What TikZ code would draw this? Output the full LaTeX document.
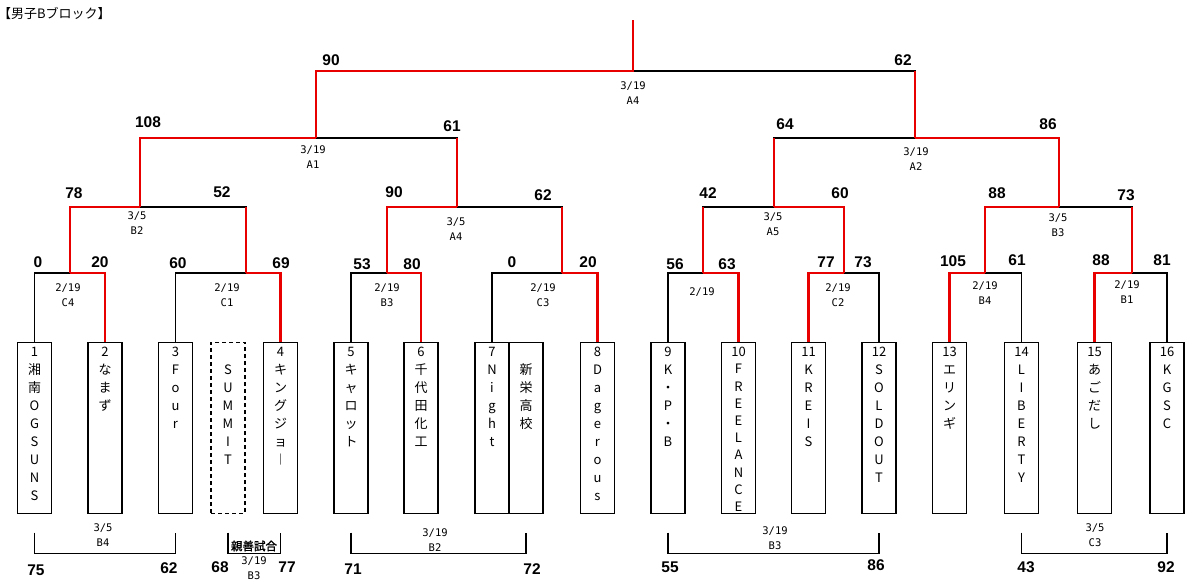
\documentclass[tikz,border=0pt]{standalone}
\usepackage{fontspec}
\setmainfont{Liberation Sans}
\newfontfamily\jp{Noto Sans CJK JP}
\newfontfamily\jpbold{Noto Sans CJK JP}[FakeBold=1.5]
\newfontfamily\mono{DejaVu Sans Mono}
\usepackage{tikz}
\definecolor{winred}{RGB}{232,0,0}

\begin{document}
\begin{tikzpicture}[x=1pt,y=-1pt,
  team/.style={draw,line width=1.2pt,minimum width=34pt,minimum height=171pt,inner sep=0pt,anchor=north},
  names/.style={anchor=north,inner sep=0pt,align=center,font=\jp\fontsize{13}{18}\selectfont},
  lose/.style={line width=1.2pt},
  win/.style={line width=2.2pt,winred},
  score/.style={inner sep=0pt,font=\bfseries\fontsize{15.5}{16}\selectfont},
  date/.style={inner sep=0pt,align=center,font=\mono\fontsize{10.5}{15}\selectfont}]
\fill[white] (0,0) rectangle (1200,586);
\useasboundingbox (0,0) rectangle (1200,586);

\node[anchor=west,inner sep=0pt,font=\jp\fontsize{13}{13}\selectfont] (title) at (-2,13) {【男子Bブロック】};

% team boxes
\node[team] (t1) at (34.5,341.5) {};
\node[team] (t2) at (105,341.5) {};
\node[team] (t3) at (175.5,341.5) {};
\node[team,dash pattern=on 4pt off 3pt] (summit) at (228,341.5) {};
\node[team] (t4) at (280.5,341.5) {};
\node[team] (t5) at (351,341.5) {};
\node[team] (t6) at (421,341.5) {};
\node[team] (t7) at (492,341.5) {};
\node[team] (shinei) at (526,341.5) {};
\node[team] (t8) at (597.5,341.5) {};
\node[team] (t9) at (668,341.5) {};
\node[team] (t10) at (738.5,341.5) {};
\node[team] (t11) at (808.5,341.5) {};
\node[team] (t12) at (879,341.5) {};
\node[team] (t13) at (949.5,341.5) {};
\node[team] (t14) at (1021.5,341.5) {};
\node[team] (t15) at (1094.5,341.5) {};
\node[team] (t16) at (1167,341.5) {};

% names, one character a line
\node[names] (n1) at ([yshift=-5.5pt]t1.north) {1\\湘\\南\\O\\G\\S\\U\\N\\S};
\node[names] (n2) at ([yshift=-5.5pt]t2.north) {2\\な\\ま\\ず};
\node[names] (n3) at ([yshift=-5.5pt]t3.north) {3\\F\\o\\u\\r};
\node[names] (nsummit) at ([yshift=-5.5pt]summit.north) {\phantom{1}\\S\\U\\M\\M\\I\\T};
\node[names] (n4) at ([yshift=-5.5pt]t4.north) {4\\キ\\ン\\グ\\ジ\\ョ\\︱};
\node[names] (n5) at ([yshift=-5.5pt]t5.north) {5\\キ\\ャ\\ロ\\ッ\\ト};
\node[names] (n6) at ([yshift=-5.5pt]t6.north) {6\\千\\代\\田\\化\\工};
\node[names] (n7) at ([yshift=-5.5pt]t7.north) {7\\N\\i\\g\\h\\t};
\node[names] (nshinei) at ([yshift=-5.5pt]shinei.north) {\phantom{1}\\新\\栄\\高\\校};
\node[names] (n8) at ([yshift=-5.5pt]t8.north) {8\\D\\a\\g\\e\\r\\o\\u\\s};
\node[names] (n9) at ([yshift=-5.5pt]t9.north) {9\\K\\・\\P\\・\\B};
\node[names,font=\jp\fontsize{13}{17.2}\selectfont] (n10) at ([yshift=-5.5pt]t10.north) {10\\F\\R\\E\\E\\L\\A\\N\\C\\E};
\node[names] (n11) at ([yshift=-5.5pt]t11.north) {11\\K\\R\\E\\I\\S};
\node[names] (n12) at ([yshift=-5.5pt]t12.north) {12\\S\\O\\L\\D\\O\\U\\T};
\node[names] (n13) at ([yshift=-5.5pt]t13.north) {13\\エ\\リ\\ン\\ギ};
\node[names] (n14) at ([yshift=-5.5pt]t14.north) {14\\L\\I\\B\\E\\R\\T\\Y};
\node[names] (n15) at ([yshift=-5.5pt]t15.north) {15\\あ\\ご\\だ\\し};
\node[names] (n16) at ([yshift=-5.5pt]t16.north) {16\\K\\G\\S\\C};

% junctions
\coordinate (m1) at (70,273);
\coordinate (m2) at (246,273);
\coordinate (m3) at (387,273);
\coordinate (m4) at (562,273);
\coordinate (m5) at (703,273);
\coordinate (m6) at (844,273);
\coordinate (m7) at (985,273);
\coordinate (m8) at (1132,273);
\coordinate (q1) at (140,207);
\coordinate (q2) at (457,207);
\coordinate (q3) at (774,207);
\coordinate (q4) at (1059,207);
\coordinate (s1) at (316,138);
\coordinate (s2) at (915,138);
\coordinate (f) at (633,71);
\coordinate (top) at (633,20);

% losing sides
\draw[lose] (t1.north) |- (m1);
\draw[lose] (t3.north) |- (m2);
\draw[lose] (t5.north) |- (m3);
\draw[lose] (t7.north) |- (m4);
\draw[lose] (t9.north) |- (m5);
\draw[lose] (t12.north) |- (m6);
\draw[lose] (t14.north) |- (m7);
\draw[lose] (t16.north) |- (m8);
\draw[lose] (m2) |- (q1);
\draw[lose] (m4) |- (q2);
\draw[lose] (m5) |- (q3);
\draw[lose] (m8) |- (q4);
\draw[lose] (q2) |- (s1);
\draw[lose] (q3) |- (s2);
\draw[lose] (s2) |- (f);

% winning sides
\draw[win] (t2.north) |- (m1);
\draw[win] (t4.north) |- (m2);
\draw[win] (t6.north) |- (m3);
\draw[win] (t8.north) |- (m4);
\draw[win] (t10.north) |- (m5);
\draw[win] (t11.north) |- (m6);
\draw[win] (t13.north) |- (m7);
\draw[win] (t15.north) |- (m8);
\draw[win] (m1) |- (q1);
\draw[win] (m3) |- (q2);
\draw[win] (m6) |- (q3);
\draw[win] (m7) |- (q4);
\draw[win] (q1) |- (s1);
\draw[win] (q4) |- (s2);
\draw[win] (s1) |- (f) -- (top);
\draw[win] (m2) -- (m2 |- q1);
\draw[win] (m4) -- (m4 |- q2);
\draw[win] (m5) -- (m5 |- q3);
\draw[win] (m8) -- (m8 |- q4);
\draw[win] (q2) -- (q2 |- s1);
\draw[win] (q3) -- (q3 |- s2);
\draw[win] (s2) -- (s2 |- f);

% scores
\foreach \x/\y/\s [count=\i] in {331/60/90, 903/60/62, 148/122/108, 452/126/61, 785/124/64, 1048/124/86,
  74/193/78, 222/192/52, 394/192/90, 543/195/62, 708/193/42, 840/193/60, 997/193/88, 1126/195/73,
  38/262/0, 100/262/20, 178/263/60, 281/263/69, 362/264/53, 412/264/80, 512/262/0, 588/262/20,
  675/264/56, 727/264/63, 826/262/77, 863/262/73, 953/261/105, 1017/260/61, 1101/260/88, 1162/260/81,
  36/570/75, 169/568/62, 220/567/68, 287/567/77, 353/569/71, 532/569/72, 670/567/55, 876/565/86,
  1026/567/43, 1166/567/92}
  \node[score] (sc\i) at (\x,\y) {\s};

% dates and courts
\node[date] (d1) at (633,93) {3/19\\A4};
\node[date] (d2) at (313,157) {3/19\\A1};
\node[date] (d3) at (916,159) {3/19\\A2};
\node[date] (d4) at (137,223) {3/5\\B2};
\node[date] (d5) at (456,229) {3/5\\A4};
\node[date] (d6) at (773,224) {3/5\\A5};
\node[date] (d7) at (1058,225) {3/5\\B3};
\node[date] (d8) at (68,295) {2/19\\C4};
\node[date] (d9) at (227,295) {2/19\\C1};
\node[date] (d10) at (387,295) {2/19\\B3};
\node[date] (d11) at (543,295) {2/19\\C3};
\node[date] (d12) at (702,292) {2/19};
\node[date] (d13) at (838,295) {2/19\\C2};
\node[date] (d14) at (985,293) {2/19\\B4};
\node[date] (d15) at (1127,292) {2/19\\B1};

% placing games below
\draw[lose] ([yshift=-19pt]t1.south) |- ([yshift=-40pt]t3.south) -- ([yshift=-19pt]t3.south);
\draw[lose] ([yshift=-19pt]summit.south) |- ([yshift=-40pt]t4.south) -- ([yshift=-19pt]t4.south);
\draw[lose] ([yshift=-19pt]t5.south) |- ([yshift=-40pt]shinei.south) -- ([yshift=-19pt]shinei.south);
\draw[lose] ([yshift=-19pt]t9.south) |- ([yshift=-40pt]t12.south) -- ([yshift=-19pt]t12.south);
\draw[lose] ([yshift=-19pt]t14.south) |- ([yshift=-40pt]t16.south) -- ([yshift=-19pt]t16.south);
\node[date] (d16) at (103,535) {3/5\\B4};
\node[inner sep=0pt,font=\jpbold\fontsize{11.5}{12}\selectfont] (friendly) at (254,546) {親善試合};
\node[date] (d17) at (254,568) {3/19\\B3};
\node[date] (d18) at (435,540) {3/19\\B2};
\node[date] (d19) at (775,538) {3/19\\B3};
\node[date] (d20) at (1095,535) {3/5\\C3};
\end{tikzpicture}
\end{document}
